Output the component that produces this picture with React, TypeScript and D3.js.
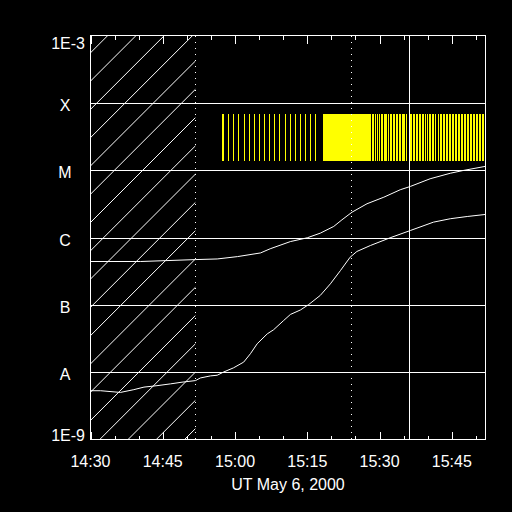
import React, { useRef, useEffect } from 'react';
import * as d3 from 'd3';

// times are minutes after 14:30 UT, May 6 2000
const longTimes = [0, 10.4, 21.8, 26.3, 30.5, 35.3, 37.3, 41.5, 45.0, 47.7, 50.5, 52.2, 54.3, 57.4, 60.9, 64.3, 66.4, 70.5, 74.7, 77.4, 82.0];
const longFlux = [4.4e-7, 4.4e-7, 4.7e-7, 4.8e-7, 5.2e-7, 5.9e-7, 6.8e-7, 8.7e-7, 9.9e-7, 1.16e-6, 1.46e-6, 1.83e-6, 2.38e-6, 3.17e-6, 3.97e-6, 5.12e-6, 5.73e-6, 7.45e-6, 9.0e-6, 9.9e-6, 1.14e-5];

const shortTimes = [0, 2.1, 6.2, 9.0, 11.1, 13.8, 16.6, 19.0, 21.8, 22.8, 24.9, 26.3, 27.7, 29.7, 31.8, 33.2, 34.6, 36.7, 38.0, 40.1, 41.5, 43.6, 45.3, 47.7, 49.8, 51.9, 53.9, 55.3, 58.1, 62.2, 66.4, 71.2, 74.7, 78.2, 82.0];
const shortFlux = [5.3e-9, 5.3e-9, 5.0e-9, 5.5e-9, 6.0e-9, 6.3e-9, 6.7e-9, 7.1e-9, 7.5e-9, 8.2e-9, 8.8e-9, 9.0e-9, 1.01e-8, 1.16e-8, 1.41e-8, 1.88e-8, 2.64e-8, 3.71e-8, 4.26e-8, 5.85e-8, 7.2e-8, 8.4e-8, 1.01e-7, 1.38e-7, 2.05e-7, 3.24e-7, 5.1e-7, 6.2e-7, 7.6e-7, 9.9e-7, 1.27e-6, 1.69e-6, 1.90e-6, 2.05e-6, 2.2e-6];

// yellow flag intervals
const flagStart = [27.39, 28.63, 29.67, 30.71, 31.95, 32.99, 34.02, 35.06, 36.10, 37.14, 38.17, 39.21, 40.46, 41.49, 42.53, 43.57, 44.61, 45.64, 46.68, 48.34, 58.57, 59.07, 59.48, 59.90, 60.37, 61.06, 61.76, 62.30, 62.93, 63.55, 64.11, 64.79, 65.50, 66.12, 67.08, 67.63, 68.32, 68.88, 69.50, 69.98, 70.39, 70.95, 71.58, 72.14, 72.68, 73.30, 73.92, 74.54, 75.17, 75.79, 76.41, 77.03, 77.66, 78.28, 78.90, 79.52, 80.15, 80.77, 81.47];
const flagEnd = [27.80, 28.84, 29.88, 30.92, 32.16, 33.20, 34.23, 35.27, 36.31, 37.35, 38.38, 39.42, 40.67, 41.70, 42.74, 43.78, 44.82, 45.85, 46.89, 58.36, 58.86, 59.27, 59.69, 60.17, 60.85, 61.56, 62.10, 62.72, 63.34, 63.90, 64.59, 65.29, 65.91, 66.87, 67.43, 68.11, 68.67, 69.29, 69.77, 70.19, 70.75, 71.37, 71.93, 72.47, 73.09, 73.71, 74.34, 74.96, 75.58, 76.20, 76.83, 77.45, 78.07, 78.69, 79.32, 79.94, 80.56, 81.27, 81.89];

const tickMinutes = [0, 5, 10, 15, 20, 25, 30, 35, 40, 45, 50, 55, 60, 65, 70, 75, 80];
const labelMinutes = [0, 15, 30, 45, 60, 75];
const tickLabels = ['14:30', '14:45', '15:00', '15:15', '15:30', '15:45'];

const classFlux = [1e-9, 1e-8, 1e-7, 1e-6, 1e-5, 1e-4, 1e-3];
const classLabels = ['1E-9', 'A', 'B', 'C', 'M', 'X', '1E-3'];

const hatchEnd = 21.76;
const dottedTimes = [21.76, 54.14];
const solidTimes = [66.18];

const App = () => {
  const ref = useRef(null);

  useEffect(() => {
    const svg = d3.select(ref.current);
    svg.selectAll('*').remove();

    const x = d3.scaleLinear().domain([0, 82]).range([90.5, 485.5]);
    const y = d3.scaleLog().domain([1e-9, 1e-3]).range([439.5, 35.5]);
    const font = '"Liberation Sans", Arial, sans-serif';

    svg.append('rect').attr('width', 512).attr('height', 512).attr('fill', '#000');

    // hatched region
    const clip = svg.append('clipPath').attr('id', 'hatchClip');
    clip.append('rect')
      .attr('x', 90.5).attr('y', 35.5)
      .attr('width', x(hatchEnd) - 90.5).attr('height', 404);
    const hatch = svg.append('g').attr('clip-path', 'url(#hatchClip)');
    for (let c = 53.3 - 28.28; c < 439 + 130; c += 28.28) {
      hatch.append('line')
        .attr('x1', 90).attr('y1', c)
        .attr('x2', 90 + 450).attr('y2', c - 450)
        .attr('stroke', '#fff').attr('stroke-width', 1);
    }

    // yellow flags
    const px = (t) => Math.round(x(t) - 0.5);
    svg.append('g').selectAll('rect')
      .data(flagStart.map((s, i) => [s, flagEnd[i]]))
      .enter().append('rect')
      .attr('x', (d) => px(d[0]))
      .attr('width', (d) => Math.max(1, px(d[1]) - px(d[0])))
      .attr('y', 114).attr('height', 47)
      .attr('fill', '#ffff00')
      .attr('shape-rendering', 'crispEdges');

    // grid lines at class levels
    svg.append('g').selectAll('line')
      .data(classFlux.slice(1, -1))
      .enter().append('line')
      .attr('x1', 90.5).attr('x2', 485.5)
      .attr('y1', (d) => Math.round(y(d)) + 0.5)
      .attr('y2', (d) => Math.round(y(d)) + 0.5)
      .attr('stroke', '#fff').attr('shape-rendering', 'crispEdges');

    // vertical markers
    svg.append('g').selectAll('line')
      .data(dottedTimes)
      .enter().append('line')
      .attr('x1', (d) => Math.round(x(d)) + 0.5).attr('x2', (d) => Math.round(x(d)) + 0.5)
      .attr('y1', 35.5).attr('y2', 439.5)
      .attr('stroke', '#fff').attr('stroke-dasharray', '1,5')
      .attr('shape-rendering', 'crispEdges');
    svg.append('g').selectAll('line')
      .data(solidTimes)
      .enter().append('line')
      .attr('x1', (d) => Math.round(x(d)) + 0.5).attr('x2', (d) => Math.round(x(d)) + 0.5)
      .attr('y1', 35.5).attr('y2', 439.5)
      .attr('stroke', '#fff').attr('shape-rendering', 'crispEdges');

    // flux curves
    const line = d3.line().x((d) => x(d[0])).y((d) => y(d[1]));
    svg.append('path')
      .attr('d', line(longTimes.map((t, i) => [t, longFlux[i]])))
      .attr('fill', 'none').attr('stroke', '#fff').attr('stroke-width', 1);
    svg.append('path')
      .attr('d', line(shortTimes.map((t, i) => [t, shortFlux[i]])))
      .attr('fill', 'none').attr('stroke', '#fff').attr('stroke-width', 1);

    // frame
    svg.append('rect')
      .attr('x', 90.5).attr('y', 35.5).attr('width', 395).attr('height', 404)
      .attr('fill', 'none').attr('stroke', '#fff').attr('shape-rendering', 'crispEdges');

    // time ticks top and bottom
    const ticks = svg.append('g').attr('stroke', '#fff').attr('shape-rendering', 'crispEdges');
    tickMinutes.forEach((m) => {
      const len = m % 15 === 0 ? 8 : 4;
      const xp = Math.round(x(m)) + 0.5;
      ticks.append('line').attr('x1', xp).attr('x2', xp).attr('y1', 439.5).attr('y2', 439.5 - len);
      ticks.append('line').attr('x1', xp).attr('x2', xp).attr('y1', 35.5).attr('y2', 35.5 + len);
    });

    // time labels
    svg.append('g').selectAll('text')
      .data(labelMinutes)
      .enter().append('text')
      .attr('x', (d) => x(d)).attr('y', 467)
      .attr('text-anchor', 'middle')
      .attr('fill', '#fff').attr('font-family', font).attr('font-size', 16)
      .text((d, i) => tickLabels[i]);

    svg.append('text')
      .attr('x', 288).attr('y', 490)
      .attr('text-anchor', 'middle')
      .attr('fill', '#fff').attr('font-family', font).attr('font-size', 16)
      .text('UT May 6, 2000');

    // flux labels
    classLabels.forEach((lab, i) => {
      const end = i === 0 || i === classLabels.length - 1;
      const off = i === 0 ? 1 : i === classLabels.length - 1 ? 13.5 : 8;
      svg.append('text')
        .attr('x', end ? 85 : 65)
        .attr('y', y(classFlux[i]) + off)
        .attr('text-anchor', end ? 'end' : 'middle')
        .attr('fill', '#fff').attr('font-family', font).attr('font-size', 16)
        .text(lab);
    });
  }, []);

  return (
    <svg
      ref={ref}
      width={512}
      height={512}
      style={{ position: 'absolute', left: 0, top: 0, display: 'block', background: '#000' }}
    />
  );
};

export default App;
